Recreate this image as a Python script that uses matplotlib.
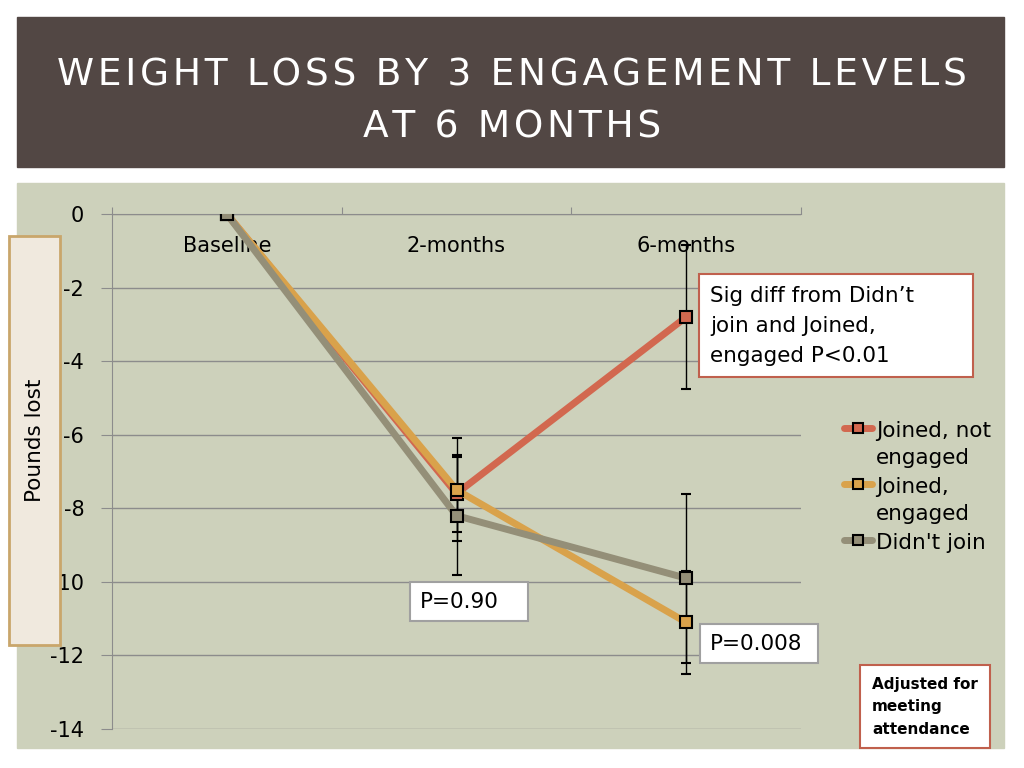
import numpy as np
import matplotlib
matplotlib.use("Agg")
import matplotlib.pyplot as plt
from matplotlib.patches import Rectangle
from matplotlib.lines import Line2D

plt.rcParams['font.family'] = ['DejaVu Sans']

categories = ["Baseline", "2-months", "6-months"]
series_names = ["Joined, not\nengaged", "Joined,\nengaged", "Didn't join"]
not_engaged = [0, -7.6, -2.8]
not_engaged_err = [0, 1.05, 1.95]
engaged = [0, -7.5, -11.1]
engaged_err = [0, 1.4, 1.4]
didnt_join = [0, -8.2, -9.9]
didnt_join_err = [0, 1.6, 2.3]
yticks = [0, -2, -4, -6, -8, -10, -12, -14]

colors = ["#d2684f", "#d9a24b", "#948f78"]
W, H = 1024, 768


def fbox(x0, y0, x1, y1, **kw):
    # rectangle given in pixel coords from the top-left corner
    fig.add_artist(Rectangle((x0 / W, 1 - y1 / H), (x1 - x0) / W, (y1 - y0) / H,
                             transform=fig.transFigure, **kw))


fig = plt.figure(figsize=(10.24, 7.68), dpi=100)
fig.patch.set_facecolor("white")

# title band and chart background
fbox(17, 17, 1004, 167, color="#524744", zorder=0)
fbox(17, 183, 1004, 748, color="#cdd1bb", zorder=0)
hs = "\u200a"
fig.text(0.5, 1 - 75 / H, hs.join("WEIGHT LOSS BY 3 ENGAGEMENT LEVELS"),
         color="white", fontsize=27, ha="center", va="center")
fig.text(0.5, 1 - 128 / H, hs.join("AT 6 MONTHS"),
         color="white", fontsize=27, ha="center", va="center")

ax = fig.add_axes([112 / W, 1 - 729 / H, 689 / W, 515 / H])
ax.set_facecolor("none")

x = np.arange(len(categories)) + 0.5
all_series = [(not_engaged, not_engaged_err), (engaged, engaged_err), (didnt_join, didnt_join_err)]
handles = []
for (vals, errs), name, c in zip(all_series, series_names, colors):
    ax.errorbar(x, vals, yerr=errs, color=c, lw=5, marker="s", ms=8,
                mfc=c, mec="black", mew=1.5,
                ecolor="black", elinewidth=1, capsize=3.5, capthick=1, zorder=3)
    handles.append(Line2D([], [], color=c, lw=5, marker="s", ms=7, mfc=c,
                          mec="black", mew=1.5, solid_capstyle="round", label=name))

ax.set_xlim(0, 3)
ax.set_ylim(-14, 0)
ax.set_yticks(yticks)
ax.set_yticklabels([str(t) for t in yticks], fontsize=15)
ax.yaxis.grid(True, color="#8c8c8c", lw=1)
ax.set_axisbelow(True)
ax.xaxis.tick_top()
ax.set_xticks([0, 1, 2, 3])
ax.set_xticklabels([])
ax.set_xticks(x, minor=True)
ax.set_xticklabels(categories, minor=True, fontsize=15)
ax.tick_params(axis="x", which="minor", length=0, pad=-30)
ax.tick_params(axis="x", which="major", length=5, color="#8c8c8c", direction="out")
ax.tick_params(axis="y", length=8, color="#8c8c8c", pad=12)
for s in ["right", "bottom"]:
    ax.spines[s].set_visible(False)
ax.spines["left"].set_color("#8c8c8c")
ax.spines["top"].set_color("#8c8c8c")

leg = ax.legend(handles=handles, loc="upper left", bbox_to_anchor=(1.035, 0.636),
                frameon=False, fontsize=15.5, handlelength=1.3, handletextpad=0.15,
                labelspacing=0.42)
for col in leg._legend_handle_box.get_children():
    for row in col.get_children():
        row.align = "top"
for t in leg.get_texts():
    t.set_linespacing(1.43)

# y label box
fbox(9, 236, 60, 645, facecolor="#f0e9de", edgecolor="#c9a66b", lw=2, zorder=5)
fig.text(35 / W, 1 - 440 / H, "Pounds lost", rotation=90, fontsize=15.5,
         ha="center", va="center", zorder=6)

# annotation boxes
fbox(699, 274, 973, 377, facecolor="white", edgecolor="#c0604d", lw=1.5, zorder=4)
fig.text(710 / W, 1 - 326 / H, "Sig diff from Didn\u2019t\njoin and Joined,\nengaged P<0.01",
         fontsize=15.5, ha="left", va="center", linespacing=1.6, zorder=5)
fbox(410, 582, 528, 621, facecolor="white", edgecolor="#a0a0a0", lw=1.5, zorder=4)
fig.text(420 / W, 1 - 602 / H, "P=0.90", fontsize=15.5, ha="left", va="center", zorder=5)
fbox(700, 624, 818, 663, facecolor="white", edgecolor="#a0a0a0", lw=1.5, zorder=4)
fig.text(710 / W, 1 - 644 / H, "P=0.008", fontsize=15.5, ha="left", va="center", zorder=5)
fbox(860, 665, 990, 748, facecolor="white", edgecolor="#c0604d", lw=1.5, zorder=4)
fig.text(872 / W, 1 - 707 / H, "Adjusted for\nmeeting\nattendance", fontsize=11,
         fontweight="bold", ha="left", va="center", linespacing=1.66, zorder=5)

fig.savefig("out.png", dpi=100)
